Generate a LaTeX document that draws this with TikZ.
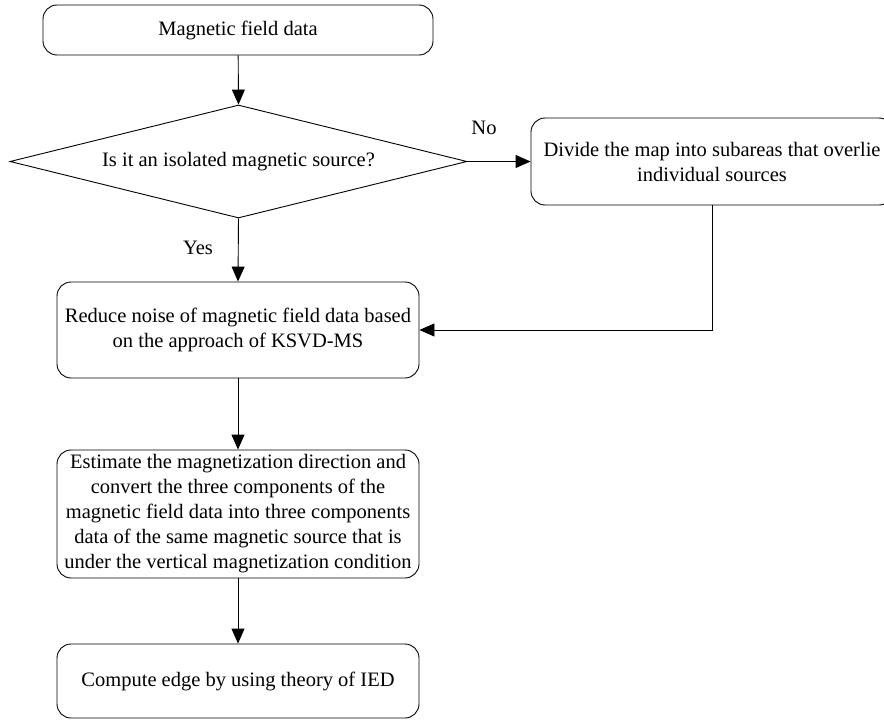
\documentclass[tikz,border=0pt]{standalone}
\usepackage{fontspec}
\setmainfont{Liberation Serif}
\usetikzlibrary{arrows.meta,shapes.geometric}
\begin{document}
\begin{tikzpicture}[x=1pt,y=-1pt,
  every node/.style={font=\fontsize{20.5}{25}\selectfont},
  box/.style={draw,line width=0.9pt,rounded corners=14pt,align=center,inner sep=0pt},
  decision/.style={draw,line width=0.9pt,diamond,aspect=4,inner sep=0pt,minimum width=457pt,minimum height=113pt},
  arr/.style={line width=0.9pt,-{Triangle[length=15pt,width=13pt]}},
  lbl/.style={inner sep=0pt}]
\useasboundingbox (0,0) rectangle (884,720);
\node[box,minimum width=390pt,minimum height=50pt] (top) at (238,30) {Magnetic field data};
\node[decision] (dec) at (238.5,161.5) {Is it an isolated magnetic source?};
\node[box,minimum width=362pt,minimum height=87pt] (div) at (712,161.5) {Divide the map into subareas that overlie\\individual sources};
\node[box,minimum width=362pt,minimum height=96pt] (red) at (238,330) {Reduce noise of magnetic field data based\\on the approach of KSVD-MS};
\node[box,minimum width=362pt,minimum height=128pt] (est) at (238,514) {Estimate the magnetization direction and\\convert the three components of the\\magnetic field data into three components\\data of the same magnetic source that is\\under the vertical magnetization condition};
\node[box,minimum width=362pt,minimum height=74pt] (comp) at (238,681) {Compute edge by using theory of IED};
\node[lbl] (no) at (484,128) {No};
\node[lbl] (yes) at (198,248) {Yes};
\coordinate (corner) at (div.south |- red.east);
\draw[arr] (top) -- (dec.north);
\draw[arr] (dec.east) -- (div.west);
\draw[arr] (dec.south) -- (red.north);
\draw[arr] (div.south) -- (corner) -- (red.east);
\draw[arr] (red) -- (est);
\draw[arr] (est) -- (comp);
\end{tikzpicture}
\end{document}
